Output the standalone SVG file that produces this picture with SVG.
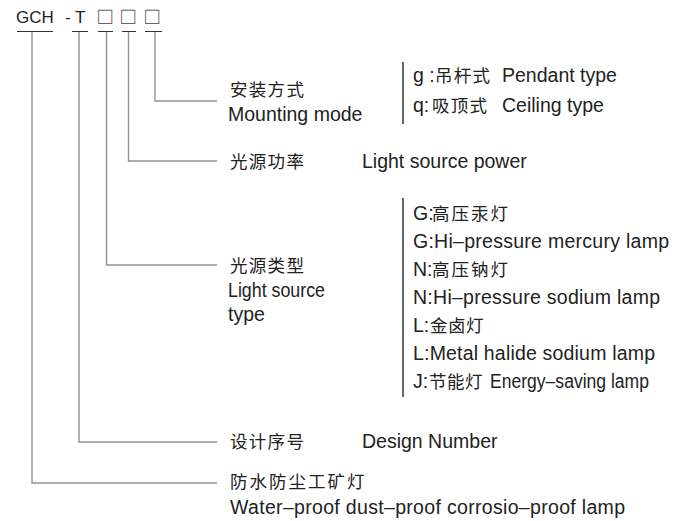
<svg xmlns="http://www.w3.org/2000/svg" width="674" height="521" viewBox="0 0 674 521">
<style>
text{fill:#222;}
.en{font-family:"Liberation Sans",Arial,sans-serif;font-size:19.5px;}
.cn{font-family:"Noto Sans CJK SC","Liberation Sans",sans-serif;font-size:17.5px;letter-spacing:1.3px;}
.hd{font-family:"Liberation Sans",Arial,sans-serif;font-size:17px;}
.box{font-family:"Liberation Sans","DejaVu Sans",sans-serif;font-size:24px;fill:#666;}
.ul{stroke:#333;stroke-width:1.2;fill:none;}
.conn{stroke:#929292;stroke-width:1.4;fill:none;}
.sep{stroke:#333;stroke-width:1.5;fill:none;}
</style>
<rect width="674" height="521" fill="#fff"/>
<g id="header">
  <text class="hd" x="16" y="23">GCH</text>
  <text class="hd" x="65" y="23">-</text>
  <text class="hd" x="75" y="23">T</text>
  <text class="box" x="98" y="24">□</text>
  <text class="box" x="121" y="24">□</text>
  <text class="box" x="145" y="24">□</text>
  <path class="ul" d="M17,31.5H53M72,31.5H88M98,31.5H113M122,31.5H136M145,31.5H162"/>
</g>
<g id="connectors">
  <path class="conn" d="M32,32V483H217"/>
  <path class="conn" d="M79,32V442H217"/>
  <path class="conn" d="M106.5,32V265H217"/>
  <path class="conn" d="M128.5,32V161H217"/>
  <path class="conn" d="M155,32V101H217"/>
  <path class="sep" d="M403,62V124M403,198V397"/>
</g>
<g id="mounting">
  <text class="cn" x="230" y="96">安装方式</text>
  <text class="en" x="228" y="121">Mounting mode</text>
</g>
<g id="mounting-options">
  <text class="en" x="413" y="82">g :</text>
  <text class="cn" x="435" y="82">吊杆式</text>
  <text class="en" x="502" y="82">Pendant type</text>
  <text class="en" x="413" y="112">q:</text>
  <text class="cn" x="432" y="112">吸顶式</text>
  <text class="en" x="502" y="112">Ceiling type</text>
</g>
<g id="power">
  <text class="cn" x="230" y="168">光源功率</text>
  <text class="en" x="362" y="168">Light source power</text>
</g>
<g id="type">
  <text class="cn" x="230" y="272">光源类型</text>
  <text class="en" x="228" y="297" textLength="97" lengthAdjust="spacingAndGlyphs">Light source</text>
  <text class="en" x="228" y="321">type</text>
</g>
<g id="type-options">
  <text class="en" x="413" y="220">G:</text>
  <text class="cn" x="432" y="220" style="letter-spacing:2px">高压汞灯</text>
  <text class="en" x="413" y="248" textLength="256" lengthAdjust="spacing">G:Hi–pressure mercury lamp</text>
  <text class="en" x="413" y="276">N:</text>
  <text class="cn" x="432" y="276" style="letter-spacing:2px">高压钠灯</text>
  <text class="en" x="413" y="304" textLength="247" lengthAdjust="spacing">N:Hi–pressure sodium lamp</text>
  <text class="en" x="413" y="332">L:</text>
  <text class="cn" x="430" y="332" style="letter-spacing:0.5px">金卤灯</text>
  <text class="en" x="413" y="360" textLength="242" lengthAdjust="spacing">L:Metal halide sodium lamp</text>
  <text class="en" x="413" y="388">J:</text>
  <text class="cn" x="429" y="388" style="letter-spacing:0.5px">节能灯</text>
  <text class="en" x="490" y="388" textLength="159" lengthAdjust="spacingAndGlyphs">Energy–saving lamp</text>
</g>
<g id="design">
  <text class="cn" x="230" y="448">设计序号</text>
  <text class="en" x="362" y="448">Design Number</text>
</g>
<g id="lamp">
  <text class="cn" x="230" y="488" style="letter-spacing:2px">防水防尘工矿灯</text>
  <text class="en" x="230" y="514" textLength="395" lengthAdjust="spacing">Water–proof dust–proof corrosio–proof lamp</text>
</g>
</svg>
